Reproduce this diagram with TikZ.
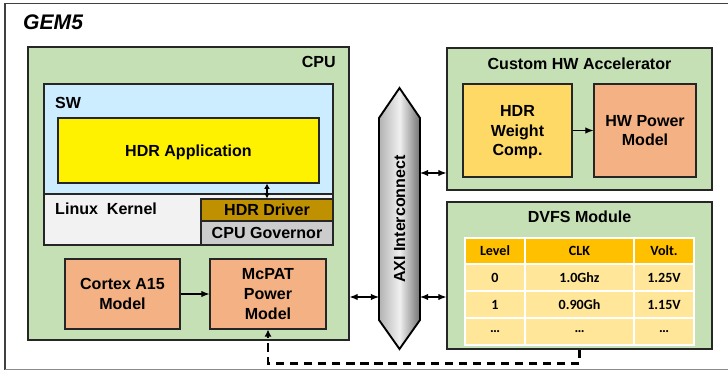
\documentclass[tikz,border=0pt]{standalone}
\usepackage{fontspec}
\setmainfont{Liberation Sans}
\newfontfamily\tabfont{Carlito}
\usetikzlibrary{fit,arrows.meta,shadows}

\definecolor{boxgreen}{RGB}{197,224,180}
\definecolor{swblue}{RGB}{204,236,255}
\definecolor{kernelgray}{RGB}{242,242,242}
\definecolor{driverbrown}{RGB}{191,144,0}
\definecolor{govgray}{RGB}{204,204,204}
\definecolor{modelorange}{RGB}{244,177,131}
\definecolor{weightyellow}{RGB}{255,217,102}
\definecolor{tabhead}{RGB}{255,192,0}
\definecolor{tabrow}{RGB}{255,230,153}

\tikzset{
    boxtext/.style={inner sep=0pt, align=center, text depth=0pt, font=\bfseries\fontsize{13.7}{17}\selectfont},
    block/.style={draw=black!85, line width=0.9pt, inner sep=0pt},
    module/.style={block, fill=boxgreen,
        drop shadow={shadow xshift=0.9pt, shadow yshift=-0.9pt, opacity=1, fill=black!60}},
    model/.style={block, fill=modelorange},
    title/.style={boxtext},
    cell/.style={draw=white, line width=1.3pt, inner sep=0pt},
    celltext/.style={inner sep=0pt, font=\tabfont\bfseries\fontsize{12}{14}\selectfont},
    arrow/.style={line width=0.9pt, -{Latex[length=7pt,width=5.5pt]}},
    link/.style={line width=1pt, {Latex[length=7pt,width=5.5pt]}-{Latex[length=7pt,width=5.5pt]}},
    powerline/.style={draw=black, line width=2.3pt, dash pattern=on 7pt off 5pt, -{Latex[length=6pt,width=6pt]}},
}

\begin{document}
\begin{tikzpicture}[x=0.3mm, y=-0.3mm]
    \useasboundingbox (0,0) rectangle (728,371);

    % frame of the simulator
    \draw [black!75, line width=0.9pt] (740,3.5) -- (5,3.5) -- (5,369.5);
    \draw [black!45, line width=0.9pt] (5,369.5) -- (740,369.5);
    \node (gem) [anchor=west, inner sep=0pt, font=\bfseries\itshape\fontsize{18}{20}\selectfont] at (23,22) {GEM5};

    % CPU side
    \node (cpu) [module, fit={(28,47) (349,340)}] {};
    \node (cputitle) [title, anchor=east] at (336,62) {CPU};

    \node (sw) [block, fill=kernelgray, fit={(44,84) (333,245)}] {};
    \node (swtop) [block, fill=swblue, fit={(44,84) (333,194)}] {};
    \node (swtitle) [title, anchor=west] at (55,103) {SW};
    \node (app) [block, fill=yellow, fit={(58,118) (319,183)},
        label={[boxtext]center:HDR Application}] {};

    \node (kernel) [title, anchor=west] at (55,209) {Linux\ \ Kernel};
    \node (driver) [block, fill=driverbrown, fit={(201,199) (333,221)},
        label={[boxtext]center:HDR Driver}] {};
    \node (gov) [block, fill=govgray, fit={(201,221) (333,245)},
        label={[boxtext]center:CPU Governor}] {};
    \draw [line width=0.9pt, {Latex[length=4.5pt,width=5pt]}-{Latex[length=4.5pt,width=5pt]}] (app.south -| driver.north) -- (driver.north);

    \node (cortex) [model, fit={(65,259) (180,329)},
        label={[boxtext]center:Cortex A15\\Model}] {};
    \node (mcpat) [model, fit={(210,259) (326,329)},
        label={[boxtext]center:McPAT\\Power\\Model}] {};
    \draw [arrow] (cortex) -- (mcpat);

    % interconnect
    \shadedraw [line width=1.6pt, draw=black, left color=black!30, right color=black!55, middle color=black!6]
        (379,118) -- (399.5,88) -- (420,118) -- (420,320) -- (399.5,349) -- (379,320) -- cycle;
    \node (axi) [title, rotate=90] at (399.5,219) {AXI Interconnect};
    \coordinate (axiL) at (379,219);
    \coordinate (axiR) at (420,219);
    \coordinate (lowbus) at (399.5,297);
    \coordinate (highbus) at (399.5,173);

    % accelerator
    \node (accel) [module, fit={(447,48) (712,190)}] {};
    \node (acceltitle) [title] at (579.5,64) {Custom HW Accelerator};
    \node (weight) [block, fill=weightyellow, fit={(463,84) (572,177)},
        label={[boxtext]center:HDR\\Weight\\Comp.}] {};
    \node (hwpower) [model, fit={(594,84) (696,177)},
        label={[boxtext]center:HW Power\\Model}] {};
    \draw [arrow] (weight) -- (hwpower);

    % DVFS
    \node (dvfs) [module, fit={(447,202) (712,349)}] {};
    \node (dvfstitle) [title] at (579.5,217) {DVFS Module};
    \foreach \r/\ya/\yb/\fc/\a/\b/\c in {0/238/264/tabhead/Level/CLK/Volt.,
                                         1/264/291/tabrow/0/1.0Ghz/1.25V,
                                         2/291/318/tabrow/1/0.90Gh/1.15V,
                                         3/318/345/tabrow/…/…/…} {
        \node (cell-\r-1) [cell, fill=\fc, fit={(465,\ya) (525,\yb)}, label={[celltext]center:\a}] {};
        \node (cell-\r-2) [cell, fill=\fc, fit={(525,\ya) (634,\yb)}, label={[celltext]center:\b}] {};
        \node (cell-\r-3) [cell, fill=\fc, fit={(634,\ya) (694,\yb)}, label={[celltext]center:\c}] {};
    }

    % bus links
    \draw [link] (cpu.east |- lowbus) -- (axiL |- lowbus);
    \draw [link] (axiR |- lowbus) -- (dvfs.west |- lowbus);
    \draw [link] (axiR |- highbus) -- (accel.west |- highbus);

    % DVFS setting to power model
    \draw [powerline] (dvfs.south) -- ++(0,14) -| (mcpat.south);

\end{tikzpicture}
\end{document}
